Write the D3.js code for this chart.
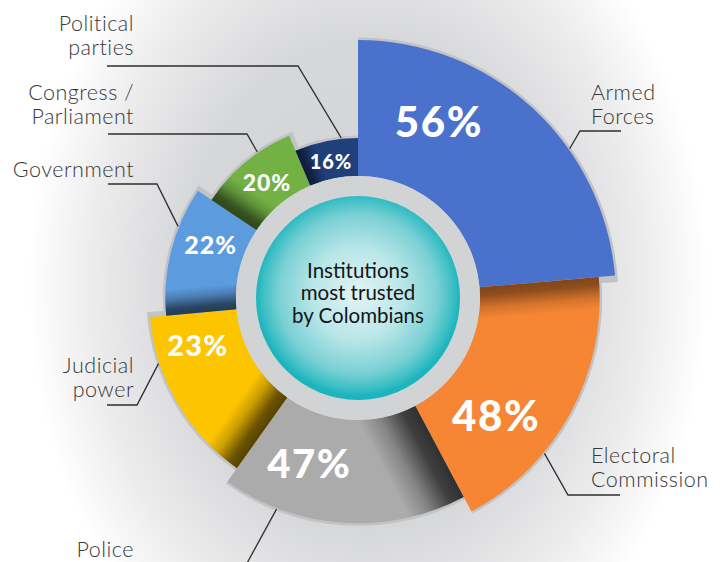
<!DOCTYPE html>
<html>
<head>
<meta charset="utf-8">
<script src="https://cdn.jsdelivr.net/npm/d3@7"></script>
<style>
  html, body { margin: 0; padding: 0; background: #fff; }
  svg { display: block; }
</style>
</head>
<body>
<svg id="chart" width="727" height="562"></svg>
<script>
// Institutions and the share of Colombians who trust them (%)
const categories = ["Armed Forces", "Electoral Commission", "Police", "Judicial power",
                    "Government", "Congress / Parliament", "Political parties"];
const labelLines = [["Armed", "Forces"], ["Electoral", "Commission"], ["Police"],
                    ["Judicial", "power"], ["Government"], ["Congress /", "Parliament"],
                    ["Political", "parties"]];
const trust = [56, 48, 47, 23, 22, 20, 16];
const centerTitle = ["Institutions", "most trusted", "by Colombians"];

// Styling and layout
const colors = ["#4a72cd", "#f68633", "#ababab", "#fdc400", "#5c9bdd", "#73b145", "#203f7b"];
const sweepDeg = [85, 67, 63.4, 49.3, 39.1, 33.2, 23];          // angular width of each sector
const backOverhang = [0.026, 0, 0, 0.026, 0.026, 0.026, 0];     // grey backing past the end edge (rad)
const valueFontSize = [42, 42, 40, 29, 25, 23, 20];
const valueAlong = [0.29, 0.68, 0.70, 0.77, 0.64, 0.54, 0.51];   // position across the sweep
const valueRadial = [0.53, 0.50, 0.49, 0.52, 0.49, 0.46, 0.44]; // position across the band
const shadeWidth = [0, 32, 58, 38, 26, 30, 20];
const shadeStrength = [0, 0.48, 0.72, 0.66, 0.62, 0.6, 0.55];
const leaderAngleDeg = [54.8, 129.8, 201.1, 251.8, 291.7, 325.4, 354];
const leaderBend = [[580, 131], [568, 495], null, [137, 405], [157, 184], [247, 134], [298, 66]];
const leaderEnd = [[621, 131], [620, 495], [240, 576], [107, 405], [108, 184], [108, 134], [107, 66]];
const labelAnchor = [[591, 100, "start"], [591, 463, "start"], [134, 557, "end"], [134, 373, "end"],
                     [134, 177, "end"], [134, 100, "end"], [134, 31, "end"]];

const W = 727, H = 562;
const cx = 358, cy = 298;
const innerR = 122, discR = 102;

const svg = d3.select("#chart");
const defs = svg.append("defs");

// soft grey halo behind the chart
const bg = defs.append("radialGradient").attr("id", "bg")
  .attr("gradientUnits", "userSpaceOnUse")
  .attr("cx", 368).attr("cy", 285).attr("r", 340)
  .attr("gradientTransform", "translate(368,285) scale(1,1.3) translate(-368,-285)");
[[0, "#d2d3d5"], [0.55, "#d6d7d9"], [0.8, "#ebebec"], [1, "#ffffff"]]
  .forEach(([o, c]) => bg.append("stop").attr("offset", o).attr("stop-color", c));
svg.append("rect").attr("width", W).attr("height", H).attr("fill", "url(#bg)");

const g = svg.append("g").attr("transform", `translate(${cx},${cy})`);

// Sector radius follows the rank of each value
const order = trust.map((v, i) => i).sort((a, b) => trust[a] - trust[b]);
const rank = new Array(trust.length);
order.forEach((idx, r) => { rank[idx] = r; });
const rScale = d3.scaleLinear().domain([0, trust.length - 1]).range([160, 258]);

const pie = d3.pie().sort(null).value(i => sweepDeg[i]);
const slices = pie(trust.map((v, i) => i)).map(s => {
  const i = s.data;
  return { i, value: trust[i], startAngle: s.startAngle, endAngle: s.endAngle,
           outer: rScale(rank[i]) };
});

const arc = d3.arc().innerRadius(innerR).outerRadius(d => d.outer);
const backArc = d3.arc().innerRadius(innerR).outerRadius(d => d.outer + 2.5)
  .startAngle(d => d.startAngle).endAngle(d => d.endAngle + backOverhang[d.i]);

// grey backing under every sector
g.selectAll("path.back").data(slices).join("path")
  .attr("class", "back")
  .attr("d", backArc)
  .attr("fill", "#c2c3c6");

// sectors
g.selectAll("path.sector").data(slices).join("path")
  .attr("class", "sector")
  .attr("d", arc)
  .attr("fill", d => colors[d.i]);

// darkening near the leading edge of each sector
slices.forEach(d => {
  if (!shadeWidth[d.i]) return;
  const a = d.startAngle;
  const rm = (innerR + d.outer) / 2;
  const x1 = rm * Math.sin(a), y1 = -rm * Math.cos(a);
  const x2 = x1 + shadeWidth[d.i] * Math.cos(a), y2 = y1 + shadeWidth[d.i] * Math.sin(a);
  const id = "shade" + d.i;
  const lg = defs.append("linearGradient").attr("id", id)
    .attr("gradientUnits", "userSpaceOnUse")
    .attr("x1", x1).attr("y1", y1).attr("x2", x2).attr("y2", y2);
  const s = shadeStrength[d.i];
  [[0, s], [0.25, s * 0.88], [0.65, s * 0.3], [1, 0]].forEach(([o, op]) =>
    lg.append("stop").attr("offset", o).attr("stop-color", "#000").attr("stop-opacity", op));
  g.append("path").attr("d", arc(d)).attr("fill", `url(#${id})`);
});

// central disc
g.append("circle").attr("r", innerR).attr("fill", "#d2d3d5");
const disc = defs.append("radialGradient").attr("id", "disc")
  .attr("cx", "50%").attr("cy", "48%").attr("r", "50%");
[[0, "#e2f4f5"], [0.45, "#b9e6e8"], [0.78, "#79d0d4"], [0.93, "#3dbfc6"], [1, "#1cb4bd"]]
  .forEach(([o, c]) => disc.append("stop").attr("offset", o).attr("stop-color", c));
g.append("circle").attr("r", discR).attr("fill", "url(#disc)");

g.append("text")
  .attr("text-anchor", "middle")
  .attr("font-family", "Lato, 'Open Sans', sans-serif")
  .attr("font-size", 20.5)
  .attr("fill", "#151515")
  .selectAll("tspan").data(centerTitle).join("tspan")
  .attr("x", 0)
  .attr("y", (d, k) => -20 + k * 22.3)
  .text(d => d);

// value labels
g.selectAll("text.value").data(slices).join("text")
  .attr("class", "value")
  .attr("text-anchor", "middle")
  .attr("dy", "0.36em")
  .attr("font-family", "Lato, 'Open Sans', sans-serif")
  .attr("font-weight", 900)
  .attr("letter-spacing", "0.04em")
  .attr("font-size", d => valueFontSize[d.i])
  .attr("fill", "#ffffff")
  .attr("transform", d => {
    const a = d.startAngle + valueAlong[d.i] * (d.endAngle - d.startAngle);
    const r = innerR + valueRadial[d.i] * (d.outer - innerR);
    return `translate(${r * Math.sin(a)},${-r * Math.cos(a)})`;
  })
  .text(d => d.value + "%");

// leader lines
const line = d3.line();
slices.forEach(d => {
  const a = leaderAngleDeg[d.i] * Math.PI / 180;
  const r = d.outer + 1;
  const pts = [[cx + r * Math.sin(a), cy - r * Math.cos(a)]];
  if (leaderBend[d.i]) pts.push(leaderBend[d.i]);
  pts.push(leaderEnd[d.i]);
  svg.append("path").attr("d", line(pts))
    .attr("fill", "none").attr("stroke", "#2e2e2e").attr("stroke-width", 1.3);
});

// category labels
slices.forEach(d => {
  const [x, y, anchor] = labelAnchor[d.i];
  svg.append("text")
    .attr("text-anchor", anchor)
    .attr("font-family", "Lato, 'Open Sans', sans-serif")
    .attr("font-weight", 300)
    .attr("font-size", 21.5)
    .attr("letter-spacing", 0.5)
    .attr("fill", "#383838")
    .selectAll("tspan").data(labelLines[d.i]).join("tspan")
    .attr("x", x)
    .attr("y", (t, k) => y + k * 23.5)
    .text(t => t);
});
</script>
</body>
</html>
